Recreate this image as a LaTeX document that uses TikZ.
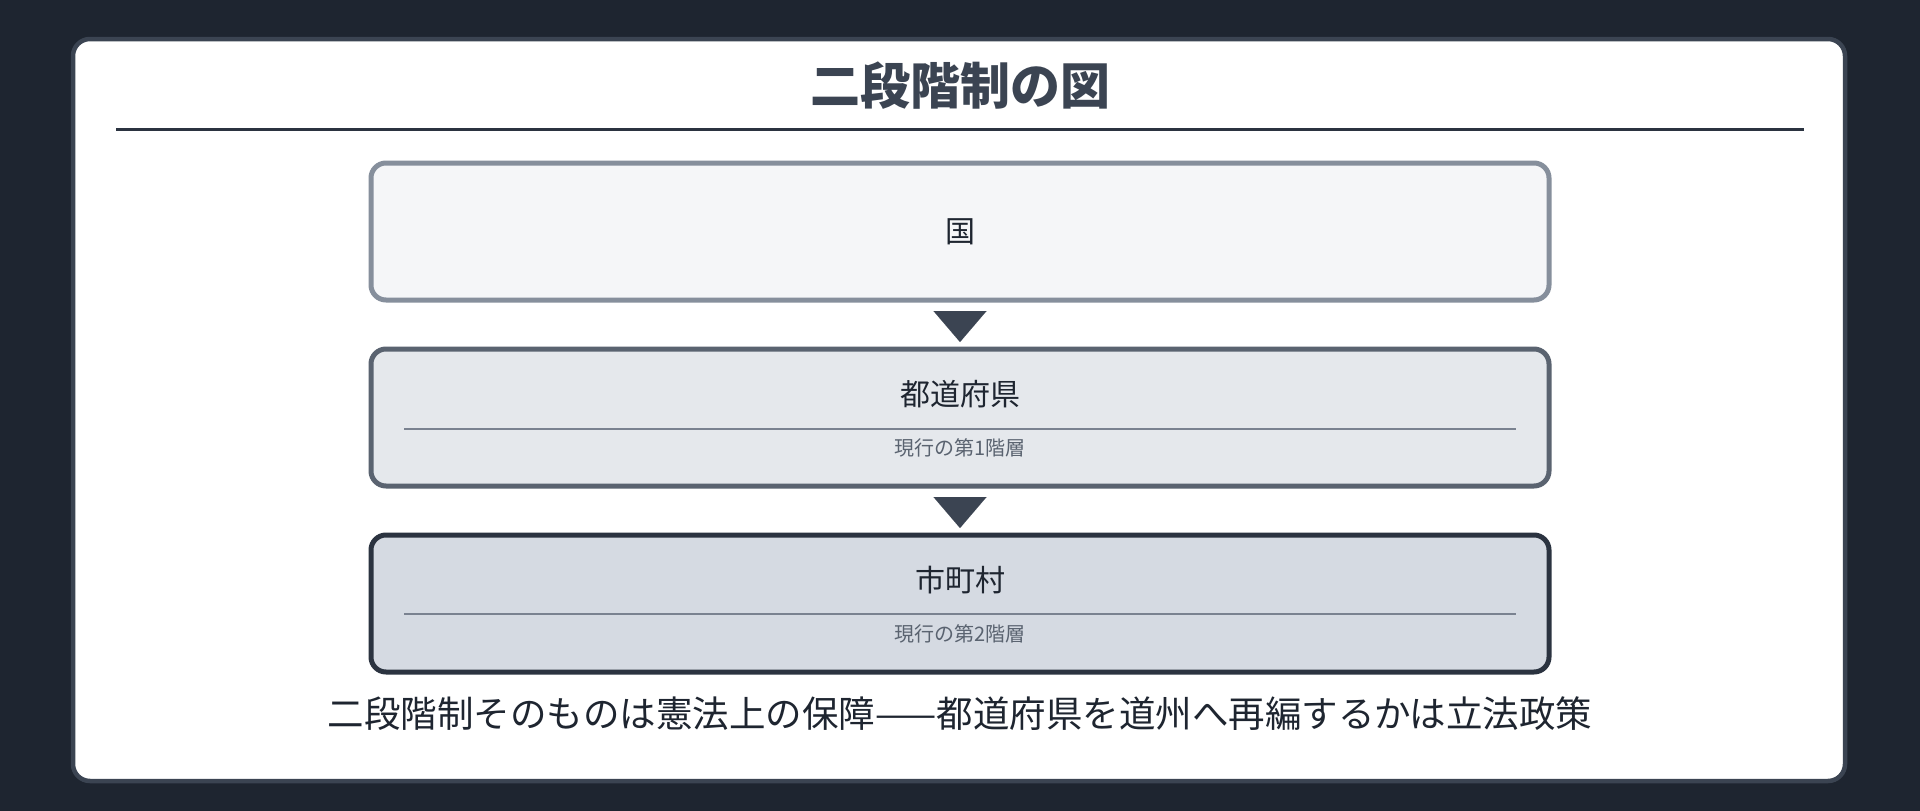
\documentclass[tikz,border=0pt]{standalone}
\usepackage{fontspec}
\setmainfont{Noto Sans CJK JP}
\usetikzlibrary{arrows.meta}
\definecolor{bgc}{HTML}{1E2530}
\definecolor{cardedge}{HTML}{3B4452}
\definecolor{titlec}{HTML}{3B4452}
\definecolor{rulec}{HTML}{2B3340}
\definecolor{fillA}{HTML}{F5F6F8}
\definecolor{edgeA}{HTML}{868F9C}
\definecolor{fillB}{HTML}{E5E8EC}
\definecolor{edgeB}{HTML}{5A6370}
\definecolor{fillC}{HTML}{D5DAE2}
\definecolor{edgeC}{HTML}{2B3340}
\definecolor{sepc}{HTML}{7A8290}
\definecolor{subc}{HTML}{5A6370}
\definecolor{arrowc}{HTML}{3B4452}
\definecolor{textc}{HTML}{1E2530}
\begin{document}
\begin{tikzpicture}[x=1pt,y=-1pt,
  tier/.style={rounded corners=15pt, line width=5pt, minimum width=1178pt, minimum height=137pt, inner sep=0pt},
  mainlabel/.style={font=\fontsize{30}{36}\selectfont, text=textc, inner sep=0pt},
  sublabel/.style={font=\fontsize{20}{24}\selectfont, text=subc, inner sep=0pt},
  sepline/.style={draw=sepc, line width=2.5pt},
  tiparrow/.style={arrowc, line width=0.01pt, -{Triangle[width=53pt,length=31pt]}}
]
\useasboundingbox (0,0) rectangle (1920,811);
\fill[bgc] (0,0) rectangle (1920,811);
\draw[fill=white, draw=cardedge, line width=4.5pt, rounded corners=17pt] (73,39) rectangle (1845,781);
\node[font=\bfseries\fontsize{50}{60}\selectfont, text=titlec, inner sep=0pt] (title) at (960,86) {二段階制の図};
\coordinate (rl) at (116,129);
\coordinate (rr) at (1804,129);
\draw[rulec, line width=3pt] (rl) -- (rr);

\node[tier, fill=fillA, draw=edgeA] (b1) at (960,231.5) {};
\node[mainlabel] (l1) at (960,231.5) {国};

\node[tier, fill=fillB, draw=edgeB] (b2) at (960,417.5) {};
\node[mainlabel] (l2) at (960,394) {都道府県};
\coordinate (s2l) at (404,429);
\coordinate (s2r) at (1516,429);
\draw[sepline] (s2l) -- (s2r);
\node[sublabel] (t2) at (960,448) {現行の第1階層};

\node[tier, fill=fillC, draw=edgeC] (b3) at (960,603.5) {};
\node[mainlabel] (l3) at (960,580) {市町村};
\coordinate (s3l) at (404,614);
\coordinate (s3r) at (1516,614);
\draw[sepline] (s3l) -- (s3r);
\node[sublabel] (t3) at (960,634) {現行の第2階層};

\draw[tiparrow, shorten <=8.5pt, shorten >=4.5pt] (b1.south) -- (b2.north);
\draw[tiparrow, shorten <=8.5pt, shorten >=4.5pt] (b2.south) -- (b3.north);

\node[font=\fontsize{36.5}{42}\selectfont, text=textc, inner sep=0pt] (note) at (960,714) {二段階制そのものは憲法上の保障——都道府県を道州へ再編するかは立法政策};
\end{tikzpicture}
\end{document}
